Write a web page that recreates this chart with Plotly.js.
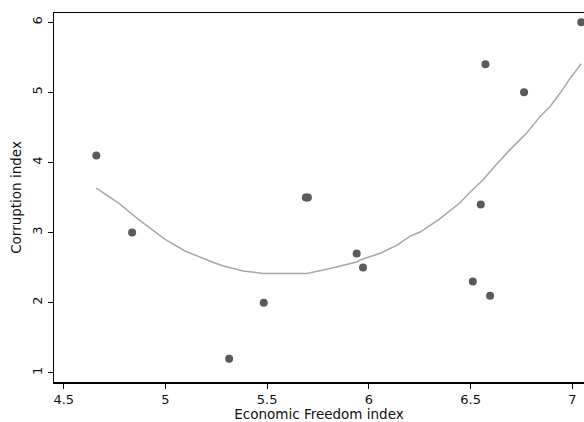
<!DOCTYPE html>
<html>
<head>
<meta charset="utf-8">
<script src="https://cdn.plot.ly/plotly-3.0.1.min.js"></script>
<style>html,body{margin:0;padding:0;background:#fff;}#chart{width:584px;height:422px;}</style>
</head>
<body>
<div id="chart"></div>
<script>
// Observed data points
var freedom = [4.66, 4.836, 5.313, 5.483, 5.69, 5.70, 5.94, 5.971, 6.511, 6.55, 6.573, 6.596, 6.763, 7.044];
var corruption = [4.1, 3.0, 1.2, 2.0, 3.5, 3.5, 2.7, 2.5, 2.3, 3.4, 5.4, 2.1, 5.0, 6.0];

// Fitted curve
var fitX = [4.66, 4.768, 4.867, 4.998, 5.096, 5.162, 5.236, 5.285, 5.383, 5.481, 5.695, 5.809, 5.94, 5.957, 6.055, 6.137, 6.203, 6.252, 6.35, 6.448, 6.497, 6.563, 6.612, 6.694, 6.776, 6.842, 6.891, 6.94, 6.99, 7.044];
var fitY = [3.633, 3.425, 3.188, 2.904, 2.737, 2.657, 2.572, 2.523, 2.452, 2.415, 2.415, 2.486, 2.58, 2.609, 2.704, 2.818, 2.95, 3.007, 3.198, 3.425, 3.576, 3.757, 3.923, 4.183, 4.421, 4.657, 4.799, 4.99, 5.203, 5.407];

var xTicks = [4.5, 5, 5.5, 6, 6.5, 7];
var yTicks = [1, 2, 3, 4, 5, 6];

var fontFam = "DejaVu Sans, Verdana, sans-serif";

var traces = [
  {x: fitX, y: fitY, type: 'scatter', mode: 'lines',
   line: {color: '#a8a8a8', width: 1.5}, hoverinfo: 'skip'},
  {x: freedom, y: corruption, type: 'scatter', mode: 'markers',
   marker: {color: '#5a5a5a', size: 8}}
];

var layout = {
  width: 584, height: 422,
  margin: {l: 54, r: 0, t: 13, b: 40, pad: 0},
  paper_bgcolor: '#fff', plot_bgcolor: '#fff',
  showlegend: false,
  font: {family: fontFam, size: 13, color: '#000'},
  xaxis: {
    range: [4.452, 7.0575], tickvals: xTicks, ticktext: xTicks.map(String),
    showgrid: false, zeroline: false, showline: true, mirror: true,
    linecolor: '#000', linewidth: 1.5,
    ticks: 'outside', ticklen: 5, tickwidth: 1.2, tickcolor: '#000',
    tickfont: {family: fontFam, size: 13, color: '#111'},
    title: {text: 'Economic Freedom index', font: {family: fontFam, size: 13.5, color: '#111'}, standoff: 3}
  },
  yaxis: {
    range: [0.868, 6.132], tickvals: yTicks, ticktext: yTicks.map(String),
    showgrid: false, zeroline: false, showline: true, mirror: false,
    linecolor: '#000', linewidth: 1.5,
    ticks: 'outside', ticklen: 5, tickwidth: 1.2, tickcolor: '#000',
    tickangle: -90,
    tickfont: {family: fontFam, size: 13, color: '#111'},
    title: {text: 'Corruption index', font: {family: fontFam, size: 13.5, color: '#111'}, standoff: 5}
  }
};

Plotly.newPlot('chart', traces, layout, {displayModeBar: false, staticPlot: true});
</script>
</body>
</html>
